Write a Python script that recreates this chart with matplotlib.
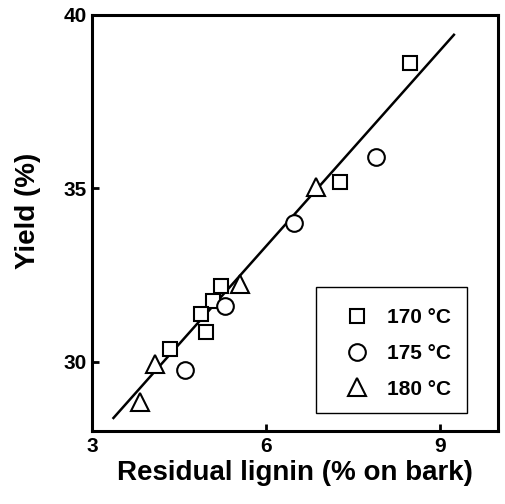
import matplotlib
matplotlib.use("Agg")
import matplotlib.pyplot as plt
from matplotlib.patches import Rectangle
import numpy as np

plt.rcParams['font.family'] = ['Liberation Sans', 'DejaVu Sans']
plt.rcParams['font.weight'] = 'bold'

# Data
x170 = [8.49, 7.27, 5.22, 5.08, 4.88, 4.96, 4.35]
y170 = [38.61, 35.19, 32.17, 31.74, 31.38, 30.85, 30.37]
x175 = [7.89, 6.49, 5.30, 4.60]
y175 = [35.89, 33.99, 31.62, 29.75]
x180 = [6.86, 5.56, 4.09, 3.82]
y180 = [35.05, 32.24, 29.92, 28.83]
labels = ['170 °C', '175 °C', '180 °C']

fit_slope = 1.883
fit_intercept = 22.03
fit_x = [3.37, 9.24]

xticks = [3, 6, 9]
yticks = [30, 35, 40]

fig = plt.figure(figsize=(5.06, 5.04), dpi=100)
ax = fig.add_axes([92/506, 1-431/504, (498-92)/506, (431-15)/504])

mk = dict(linestyle='none', markerfacecolor='white', markeredgecolor='black',
          markeredgewidth=1.5, color='black')
ax.plot(x170, y170, marker='s', markersize=10.5, label=labels[0], zorder=3, **mk)
ax.plot(x175, y175, marker='o', markersize=12, label=labels[1], zorder=3, **mk)
ax.plot(x180, y180, marker='^', markersize=13, label=labels[2], zorder=3, **mk)

fx = np.array(fit_x)
ax.plot(fx, fit_slope*fx + fit_intercept, color='black', lw=1.8, zorder=2)

ax.set_xlim(3, 10)
ax.set_ylim(28, 40)
ax.set_xticks(xticks)
ax.set_yticks(yticks)
ax.tick_params(direction='in', length=5, width=2, labelsize=15, pad=4)
for lab in ax.get_xticklabels() + ax.get_yticklabels():
    lab.set_fontweight('bold')
for s in ax.spines.values():
    s.set_linewidth(2.2)

ax.set_xlabel('Residual lignin (% on bark)', fontsize=20, fontweight='bold', labelpad=3)
ax.set_ylabel('Yield (%)', fontsize=20, fontweight='bold', labelpad=16)
ax.yaxis.label.set_y(0.53)

# legend box
ax.add_patch(Rectangle((0.552, 0.043), 0.372, 0.303, transform=ax.transAxes,
                       facecolor='white', edgecolor='black', lw=1.0, zorder=4))
leg = ax.legend(loc='center', bbox_to_anchor=(0.755, 0.186), frameon=False,
                fontsize=15, handlelength=1.0, handletextpad=0.95,
                labelspacing=0.8, borderpad=0.0, borderaxespad=0.0)
leg.set_zorder(5)
for t in leg.get_texts():
    t.set_fontweight('bold')

fig.savefig('out.png', dpi=100)
